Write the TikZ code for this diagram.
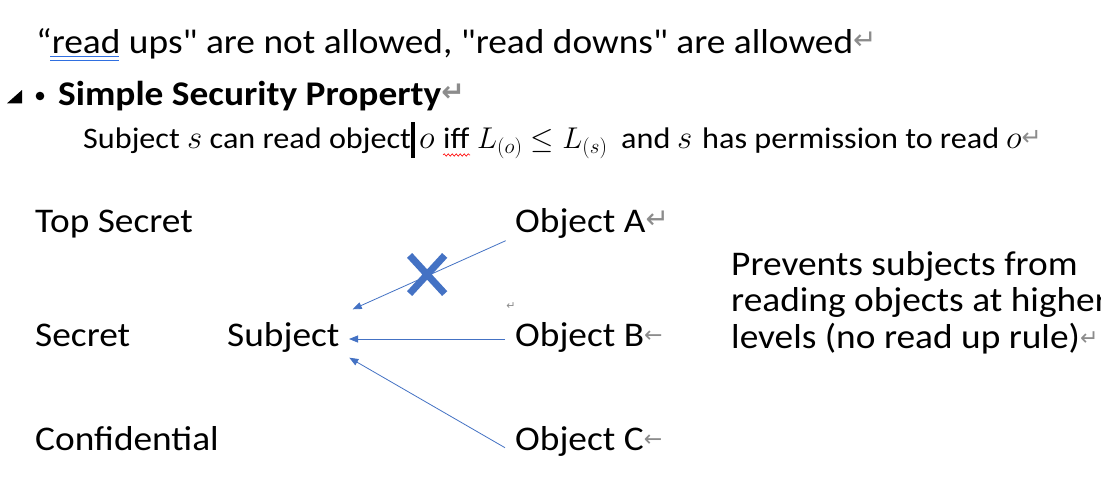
\RequirePackage{fix-cm}
\documentclass[tikz,border=0pt]{standalone}
\usepackage{fontspec}
\setmainfont{Carlito}[FakeStretch=1.08,Ligatures=TeXOff]
\newfontfamily\markfont{DejaVu Sans}
\usetikzlibrary{arrows.meta,decorations.pathmorphing}
\definecolor{wordblue}{HTML}{4472C4}
\definecolor{markgray}{HTML}{8C8C8C}
\definecolor{gramblue}{HTML}{2F6FE0}
\newcommand{\parmark}[1]{{\color{markgray}\markfont\fontsize{#1}{#1}\selectfont\raisebox{0.12em}{↵}}}
\newcommand{\brkmark}[1]{{\color{markgray}\markfont\fontsize{#1}{#1}\selectfont\raisebox{0.15em}{←}}}
\newcommand{\mymath}[1]{{\fontsize{33}{33}\selectfont$#1$}}
\begin{document}
\begin{tikzpicture}[x=1pt,y=-1pt,
  txt/.style={anchor=base west,inner sep=0pt,font=\fontsize{34.6}{40}\selectfont},
  sub/.style={anchor=base west,inner sep=0pt,font=\fontsize{29.8}{34}\selectfont},
  conn/.style={draw=wordblue,line width=0.8pt,-{Triangle[length=9pt,width=7pt]}},
  crossline/.style={draw=wordblue,line width=7pt,line cap=butt}]
\useasboundingbox (0,0) rectangle (1101,499);
\fill[white] (0,0) rectangle (1101,499);

% header lines
\node[txt] (l1) at (36,53.3) {“read ups" are not allowed, "read downs" are allowed\parmark{28}};
\draw[gramblue,line width=0.8pt] (50,56.5) -- (119,56.5) (50,60.5) -- (119,60.5);
\fill (7,103.3) -- (22,103.3) -- (22,90) -- cycle;
\fill (40,96) circle (4.3);
\node[txt,font=\fontsize{34.6}{40}\selectfont\bfseries] (l2) at (58,105) {Simple Security Property\parmark{28}};

% formula line
\node[sub] (l3a) at (83,148.5) {Subject \mymath{s} can read object};
\fill (410.7,121.7) rectangle (415,158.3);
\node[sub] (l3o) at (419,148.5) {\mymath{o}};
\node[sub] (l3iff) at (443,148.5) {iff};
\draw[red,line width=0.6pt,decorate,decoration={snake,amplitude=1.2pt,segment length=4pt}] (443,155) -- (470,155);
\node[sub,font=\fontsize{30}{34}\selectfont] (l3L) at (477,148.5) {$L_{(o)}\le L_{(s)}$};
\node[sub] (l3and) at (621,148.5) {and};
\node[sub] (l3s) at (677,148.5) {\mymath{s}};
\node[sub] (l3has) at (702,148.5) {has permission to read};
\node[sub] (l3end) at (1006,148.5) {\mymath{o}\parmark{24}};

% levels
\node[txt] (ts) at (35,232) {Top Secret};
\node[txt] (sec) at (35,346) {Secret};
\node[txt] (conf) at (35,450) {Confidential};
\node[txt] (subj) at (227,346) {Subject};
\node[txt] (objA) at (515,232) {Object A\parmark{28}};
\node[txt] (objB) at (515,346) {Object B\brkmark{22}};
\node[txt] (objC) at (515,450) {Object C\brkmark{22}};
\node[anchor=center,inner sep=0pt,text=markgray,font=\markfont\fontsize{11}{11}\selectfont] (pm) at (511,306) {↵};

\node[txt] (p1) at (731,275) {Prevents subjects from};
\node[txt] (p2) at (731,311.5) {reading objects at higher};
\node[txt] (p3) at (731,348) {levels (no read up rule)\parmark{22}};

% connectors
\coordinate (tA) at (352.7,309.3);
\coordinate (tB) at (349,339);
\coordinate (tC) at (349.3,357.7);
\draw[conn] ([xshift=-9.3pt,yshift=-8.7pt]objA.base west) -- (tA);
\draw[conn] ([xshift=-10pt,yshift=7pt]objB.base west) -- (tB);
\draw[conn] ([xshift=-10pt,yshift=2.3pt]objC.base west) -- (tC);

% cross
\draw[crossline] (409.6,255.4) -- (444.7,293.6) (409.6,293.6) -- (444.7,255.4);
\end{tikzpicture}
\end{document}
